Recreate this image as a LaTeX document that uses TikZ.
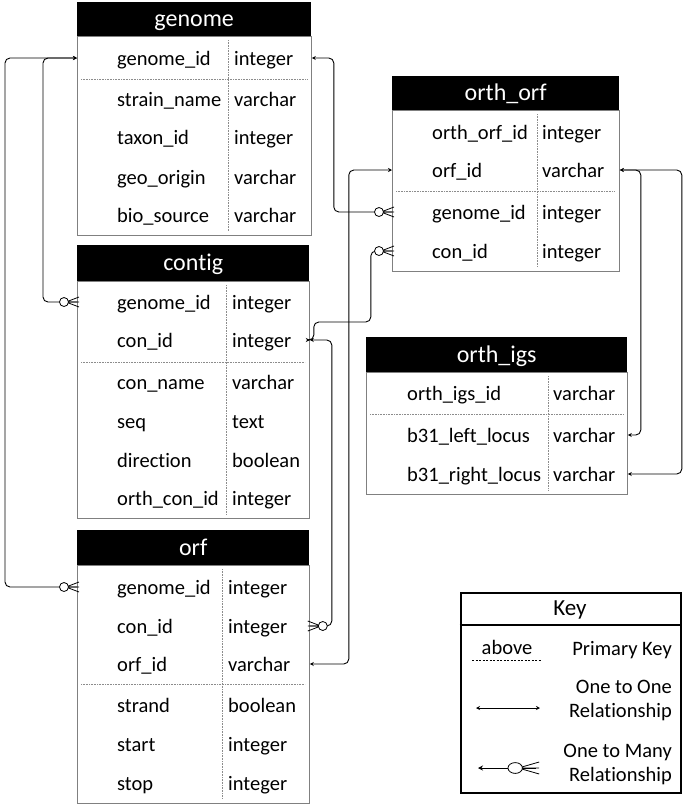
\documentclass[tikz,border=0pt]{standalone}
\usepackage{fontspec}
\setmainfont{Carlito}[Ligatures=NoCommon]
\usepackage{tikz}
\usetikzlibrary{arrows.meta,positioning}

\begin{document}
\begin{tikzpicture}[
    x=1pt, y=-1pt,
    hdr/.style={fill=black, text=white, anchor=north west, inner sep=0pt, text height=19pt, text depth=4pt, font=\fontsize{24}{28}\selectfont},
    tbl/.style={draw=black!50, line width=0.8pt, anchor=north west, inner sep=0pt},
    fld/.style={anchor=west, inner sep=0pt, text height=19pt, text depth=5pt, font=\fontsize{20.5}{24}\selectfont},
    sep/.style={densely dotted, black!45, line width=0.6pt},
    link/.style={line width=0.9pt, rounded corners=5pt},
    onestart/.style={{Stealth[length=4pt,width=4pt]}-},
    oneboth/.style={{Stealth[length=4pt,width=4pt]}-{Stealth[length=4pt,width=4pt]}},
    crow/.pic={
        \draw[line width=0.8pt] (-11,0) -- (2,-5) (-11,0) -- (2,5) (-11,0) -- (2,0);
        \draw[line width=0.8pt, fill=white] (-13,0) circle (4.5pt);
    }
]
\useasboundingbox (0,0) rectangle (685,807);

% genome
\node[hdr, minimum width=234pt, minimum height=34pt] (genome) at (77,2) {genome};
\node[tbl, minimum width=234pt, minimum height=199pt] (genome-b) at (77,36) {};
\node[fld] (g-gid) at (117,58) {genome\_id};
\node[fld] (g-gidt) at (234,58) {integer};
\node[fld] (g-sn) at (117,99) {strain\_name};
\node[fld] (g-snt) at (234,99) {varchar};
\node[fld] (g-tx) at (117,137) {taxon\_id};
\node[fld] (g-txt) at (234,137) {integer};
\node[fld] (g-geo) at (117,177) {geo\_origin};
\node[fld] (g-geot) at (234,177) {varchar};
\node[fld] (g-bio) at (117,215) {bio\_source};
\node[fld] (g-biot) at (234,215) {varchar};
\draw[sep] (81,79) -- (307,79);
\draw[sep] (228,40) -- (228,231);

% contig
\node[hdr, minimum width=232pt, minimum height=36pt] (contig) at (77,245) {contig};
\node[tbl, minimum width=232pt, minimum height=237pt] (contig-b) at (77,281) {};
\node[fld] (c-gid) at (117,302) {genome\_id};
\node[fld] (c-gidt) at (232,302) {integer};
\node[fld] (c-cid) at (117,340) {con\_id};
\node[fld] (c-cidt) at (232,340) {integer};
\node[fld] (c-nm) at (117,382) {con\_name};
\node[fld] (c-nmt) at (232,382) {varchar};
\node[fld] (c-seq) at (117,421) {seq};
\node[fld] (c-seqt) at (232,421) {text};
\node[fld] (c-dir) at (117,460) {direction};
\node[fld] (c-dirt) at (232,460) {boolean};
\node[fld] (c-ocid) at (117,498) {orth\_con\_id};
\node[fld] (c-ocidt) at (232,498) {integer};
\draw[sep] (81,362) -- (305,362);
\draw[sep] (226,285) -- (226,514);

% orf
\node[hdr, minimum width=232pt, minimum height=35pt] (orf) at (77,530) {orf};
\node[tbl, minimum width=232pt, minimum height=238pt] (orf-b) at (77,565) {};
\node[fld] (o-gid) at (117,587) {genome\_id};
\node[fld] (o-gidt) at (228,587) {integer};
\node[fld] (o-cid) at (117,626) {con\_id};
\node[fld] (o-cidt) at (228,626) {integer};
\node[fld] (o-oid) at (117,664) {orf\_id};
\node[fld] (o-oidt) at (228,664) {varchar};
\node[fld] (o-str) at (117,705) {strand};
\node[fld] (o-strt) at (228,705) {boolean};
\node[fld] (o-sta) at (117,744) {start};
\node[fld] (o-stat) at (228,744) {integer};
\node[fld] (o-sto) at (117,783) {stop};
\node[fld] (o-stot) at (228,783) {integer};
\draw[sep] (81,684) -- (305,684);
\draw[sep] (222,569) -- (222,799);

% orth_orf
\node[hdr, minimum width=227pt, minimum height=34pt] (oorf) at (392,76) {orth\_orf};
\node[tbl, minimum width=227pt, minimum height=161pt] (oorf-b) at (392,110) {};
\node[fld] (oo-id) at (432,132) {orth\_orf\_id};
\node[fld] (oo-idt) at (542,132) {integer};
\node[fld] (oo-oid) at (432,170) {orf\_id};
\node[fld] (oo-oidt) at (542,170) {varchar};
\node[fld] (oo-gid) at (432,212) {genome\_id};
\node[fld] (oo-gidt) at (542,212) {integer};
\node[fld] (oo-cid) at (432,251) {con\_id};
\node[fld] (oo-cidt) at (542,251) {integer};
\draw[sep] (396,191) -- (615,191);
\draw[sep] (537,114) -- (537,267);

% orth_igs
\node[hdr, minimum width=261pt, minimum height=35pt] (igs) at (366,337) {orth\_igs};
\node[tbl, minimum width=261pt, minimum height=122pt] (igs-b) at (366,372) {};
\node[fld] (i-id) at (407,393) {orth\_igs\_id};
\node[fld] (i-idt) at (553,393) {varchar};
\node[fld] (i-left) at (407,435) {b31\_left\_locus};
\node[fld] (i-leftt) at (553,435) {varchar};
\node[fld] (i-right) at (407,474) {b31\_right\_locus};
\node[fld] (i-rightt) at (553,474) {varchar};
\draw[sep] (370,414) -- (623,414);
\draw[sep] (548,376) -- (548,490);

% relationships
\draw[link, onestart] (genome-b.west |- g-gid) -- ++(-72,0) |- (orf-b.west |- o-gid);
\draw[link, onestart] (genome-b.west |- g-gid) -- ++(-34,0) |- (contig-b.west |- c-gid);
\draw[link, onestart] (genome-b.east |- g-gid) -- ++(22,0) |- (oorf-b.west |- oo-gid);
\draw[link, oneboth] (orf-b.east |- o-oid) -- ++(39,0) |- (oorf-b.west |- oo-oid);
\draw[link, onestart] (contig-b.east |- c-cid) -| ++(4,-18) -- ++(57,0) |- (oorf-b.west |- oo-cid);
\draw[link, onestart] (contig-b.east |- c-cid) -- ++(22,0) |- (orf-b.east |- o-cid);
\draw[link, oneboth] (oorf-b.east |- oo-oid) -- ++(21,0) |- (igs-b.east |- i-left);
\draw[link, oneboth] (oorf-b.east |- oo-oid) -- ++(62,0) |- (igs-b.east |- i-right);
\pic at (orf-b.west |- o-gid) {crow};
\pic at (contig-b.west |- c-gid) {crow};
\pic at (oorf-b.west |- oo-gid) {crow};
\pic at (oorf-b.west |- oo-cid) {crow};
\pic[rotate=180] at (orf-b.east |- o-cid) {crow};

% key
\node[draw, line width=2.5pt, anchor=north west, minimum width=220pt, minimum height=200pt] (key) at (459.5,591.5) {};
\node[font=\fontsize{23}{26}\selectfont, inner sep=0pt, text height=16pt, text depth=4pt] (key-t) at (570,609) {Key};
\draw[line width=2.5pt] (459.5,625) -- (679.5,625);
\node[fld, anchor=center] (key-ab) at (507,647) {above};
\draw[line width=0.7pt, dash pattern=on 2pt off 1.5pt] (472,660) -- (542,660);
\node[fld, anchor=east] (key-pk) at (672,648) {Primary Key};
\node[anchor=east, align=right, inner sep=0pt, font=\fontsize{20.5}{24}\selectfont] (key-11) at (672,700) {One to One\\Relationship};
\node[anchor=east, align=right, inner sep=0pt, font=\fontsize{20.5}{24}\selectfont] (key-1n) at (672,764) {One to Many\\Relationship};
\coordinate (k11a) at (476,708);
\coordinate (k11b) at (540,708);
\draw[line width=0.9pt, oneboth] (k11a) -- (k11b);
\coordinate (k1na) at (478,768);
\coordinate (k1nb) at (536,768);
\draw[line width=0.9pt, {Stealth[length=5pt,width=5pt]}-] (k1na) -- (k1nb);
\pic[xscale=1.6, yscale=1.2] at (k1nb) {crow};
\end{tikzpicture}
\end{document}
